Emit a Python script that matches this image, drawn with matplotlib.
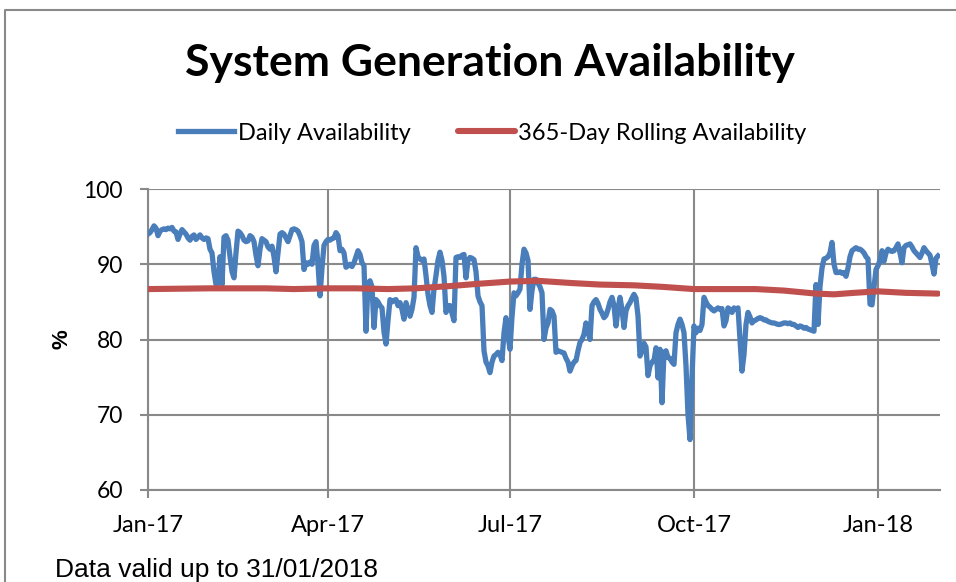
import matplotlib
matplotlib.use("Agg")
import matplotlib.pyplot as plt
import matplotlib.dates as mdates
from matplotlib.lines import Line2D
import numpy as np
import pandas as pd

# daily availability (%), 1 Jan 2017 .. 31 Jan 2018, one list per month
jan17 = [94.0, 94.2, 94.6, 95.1, 94.8, 93.8, 94.4, 94.6, 94.7, 94.6, 94.8, 94.7, 94.9, 94.4, 94.3, 93.3,
         94.0, 94.6, 94.3, 94.0, 93.5, 93.2, 93.7, 93.9, 93.3, 93.6, 93.9, 93.5, 93.3, 93.5, 93.4]
feb17 = [92.0, 91.5, 89.0, 87.3, 87.5, 91.0, 87.3, 93.6, 93.8, 93.2, 91.0, 89.0, 88.2, 91.5, 94.4, 94.2,
         93.8, 93.2, 93.0, 93.1, 93.8, 93.6, 93.0, 91.2, 89.8, 92.0, 93.4, 93.2]
mar17 = [93.0, 92.3, 92.0, 92.4, 91.0, 89.0, 91.5, 94.0, 94.2, 94.0, 93.5, 93.0, 93.8, 94.6, 94.7, 94.6,
         94.4, 93.8, 93.0, 89.3, 90.2, 90.0, 90.3, 90.0, 92.5, 93.0, 90.0, 85.8, 89.5, 92.5, 93.0]
apr17 = [93.3, 93.2, 93.4, 93.5, 94.2, 93.8, 91.8, 92.0, 91.5, 89.6, 89.8, 90.0, 89.7, 90.2, 91.0, 91.8,
         91.3, 90.2, 89.8, 81.1, 87.5, 87.8, 87.0, 81.6, 85.3, 85.0, 84.5, 84.2, 81.0, 79.4]
may17 = [82.5, 85.3, 85.0, 85.2, 85.3, 84.5, 84.9, 84.0, 82.7, 84.9, 84.0, 83.1, 84.0, 85.6, 92.2, 91.0,
         90.7, 90.5, 90.7, 88.5, 86.0, 84.5, 83.6, 86.7, 88.5, 90.5, 91.6, 90.5, 88.4, 83.6, 84.5]
jun17 = [84.5, 83.5, 82.5, 90.9, 91.0, 90.9, 91.2, 91.3, 88.2, 90.5, 90.9, 90.8, 90.6, 89.0, 85.8, 85.0,
         84.5, 78.5, 77.0, 76.5, 75.6, 77.0, 77.8, 78.0, 78.3, 78.0, 77.2, 80.9, 82.9, 80.5]
jul17 = [78.7, 83.0, 86.2, 85.8, 86.2, 86.7, 90.0, 92.0, 91.5, 90.5, 84.0, 86.5, 88.0, 88.0, 87.5, 87.0,
         86.2, 80.0, 81.5, 82.2, 84.0, 83.8, 83.1, 78.3, 78.5, 78.4, 78.3, 78.2, 77.5, 77.0, 75.8]
aug17 = [76.5, 77.0, 77.2, 78.5, 79.6, 80.0, 80.7, 82.2, 81.0, 80.0, 84.5, 85.0, 85.3, 84.8, 84.0, 83.5,
         82.9, 83.2, 84.0, 85.0, 85.6, 84.5, 81.8, 84.0, 85.6, 84.0, 81.6, 83.8, 84.5, 84.9, 85.5]
sep17 = [86.0, 85.5, 83.1, 77.8, 78.5, 79.5, 79.0, 75.2, 76.5, 77.0, 77.2, 78.9, 74.9, 78.7, 71.6, 78.3,
         78.5, 77.6, 77.5, 77.0, 76.7, 80.9, 82.0, 82.7, 82.0, 80.9, 76.5, 70.0, 66.7, 75.0]
oct17 = [81.8, 80.9, 81.5, 81.2, 82.0, 85.6, 85.0, 84.5, 84.3, 84.0, 83.8, 84.0, 84.2, 84.0, 84.1, 81.8,
         82.5, 84.2, 84.0, 83.6, 84.2, 84.0, 84.2, 80.0, 75.8, 78.0, 82.0, 83.6, 83.0, 82.2, 82.5]
nov17 = [82.6, 82.8, 82.9, 82.8, 82.6, 82.6, 82.4, 82.3, 82.2, 82.2, 82.1, 82.0, 82.0, 82.1, 82.2, 82.2,
         82.1, 82.2, 82.0, 82.0, 81.8, 81.6, 81.8, 81.7, 81.5, 81.6, 81.4, 81.3, 81.2, 81.1]
dec17 = [87.3, 82.0, 87.0, 89.5, 90.7, 90.8, 91.0, 91.5, 92.9, 90.0, 88.9, 88.9, 89.0, 88.8, 88.9, 88.4,
         89.5, 91.0, 91.8, 92.0, 92.2, 92.0, 92.0, 91.8, 91.5, 91.0, 90.7, 84.7, 84.6, 87.0, 89.3]
jan18 = [89.8, 90.5, 91.8, 90.4, 91.5, 92.0, 91.8, 91.7, 91.8, 92.2, 92.7, 91.5, 90.2, 92.2, 92.5, 92.6,
         92.7, 92.3, 91.8, 91.5, 91.2, 90.9, 91.5, 92.2, 91.8, 91.5, 91.2, 90.0, 88.7, 90.8, 91.1]

daily = jan17 + feb17 + mar17 + apr17 + may17 + jun17 + jul17 + aug17 + sep17 + oct17 + nov17 + dec17 + jan18
daily_dates = pd.date_range("2017-01-01", periods=len(daily), freq="D")

# 365-day rolling availability (%), read at these dates
rolling_dates = pd.to_datetime([
    "2017-01-01", "2017-02-01", "2017-03-01", "2017-03-15", "2017-04-01", "2017-04-15",
    "2017-05-01", "2017-05-15", "2017-06-01", "2017-06-15", "2017-07-01", "2017-07-15",
    "2017-08-01", "2017-08-15", "2017-09-01", "2017-09-15", "2017-10-01", "2017-10-15",
    "2017-11-01", "2017-11-15", "2017-12-01", "2017-12-10", "2017-12-20", "2018-01-01",
    "2018-01-15", "2018-01-31"])
rolling = [86.7, 86.8, 86.8, 86.7, 86.8, 86.8,
           86.7, 86.8, 87.1, 87.4, 87.7, 87.8,
           87.5, 87.3, 87.2, 87.0, 86.7, 86.7,
           86.7, 86.5, 86.1, 86.0, 86.2, 86.4,
           86.2, 86.1]

tick_dates = pd.to_datetime(["2017-01-01", "2017-04-01", "2017-07-01", "2017-10-01", "2018-01-01"])
y_ticks = [60, 70, 80, 90, 100]

blue = '#4a7ebb'
red = '#c0504d'
grid_col = '#898989'
calibri_like = ['Lato', 'DejaVu Sans']

fig = plt.figure(figsize=(9.56, 5.82), dpi=100)
ax = fig.add_axes([148 / 956, 1 - 490 / 582, (940 - 148) / 956, (490 - 189) / 582])

ax.plot(daily_dates, daily, color=blue, lw=3.8, solid_joinstyle='round', label='Daily Availability', zorder=3)
ax.plot(rolling_dates, rolling, color=red, lw=4.4, solid_capstyle='round', label='365-Day Rolling Availability', zorder=4)

ax.set_xlim(pd.Timestamp("2017-01-01"), pd.Timestamp("2018-02-01"))
ax.set_ylim(60, 100)
ax.set_xticks(tick_dates)
ax.xaxis.set_major_formatter(mdates.DateFormatter('%b-%y'))
ax.set_yticks(y_ticks)

for s in ['top', 'right']:
    ax.spines[s].set_visible(False)
for s in ['left', 'bottom']:
    ax.spines[s].set_color(grid_col)
    ax.spines[s].set_linewidth(1.5)
ax.grid(True, color=grid_col, lw=1.5, zorder=0)
ax.tick_params(axis='both', direction='out', length=6, width=1.5, color=grid_col)
ax.tick_params(axis='y', pad=12)
ax.tick_params(axis='x', pad=12)
for lab in ax.get_xticklabels():
    lab.set_family(calibri_like)
    lab.set_fontsize(17)
for lab in ax.get_yticklabels():
    lab.set_family(calibri_like)
    lab.set_fontsize(16.5)

ax.set_ylabel('%', family=['Liberation Sans'], fontsize=16, fontweight='bold', labelpad=8)

fig.text(490 / 956, 1 - 63 / 582, 'System Generation Availability', ha='center', va='center',
         family=calibri_like, fontsize=32, fontweight='bold')

fig.legend(loc='center', bbox_to_anchor=(492 / 956, 1 - 133 / 582), ncol=2, frameon=False,
           prop={'family': calibri_like, 'size': 17}, handlelength=2.4, handletextpad=0.15,
           columnspacing=2.0)

fig.text(55 / 956, 1 - 570 / 582, 'Data valid up to 31/01/2018', ha='left', va='center',
         family=['Liberation Sans'], fontsize=19)

# chart area border (left and top edges visible)
fig.add_artist(Line2D([5 / 956, 5 / 956, 1.0], [0.0, 1 - 10 / 582, 1 - 10 / 582],
                      transform=fig.transFigure, color=grid_col, lw=1.5))

fig.savefig('out.png', dpi=100, facecolor='white')
